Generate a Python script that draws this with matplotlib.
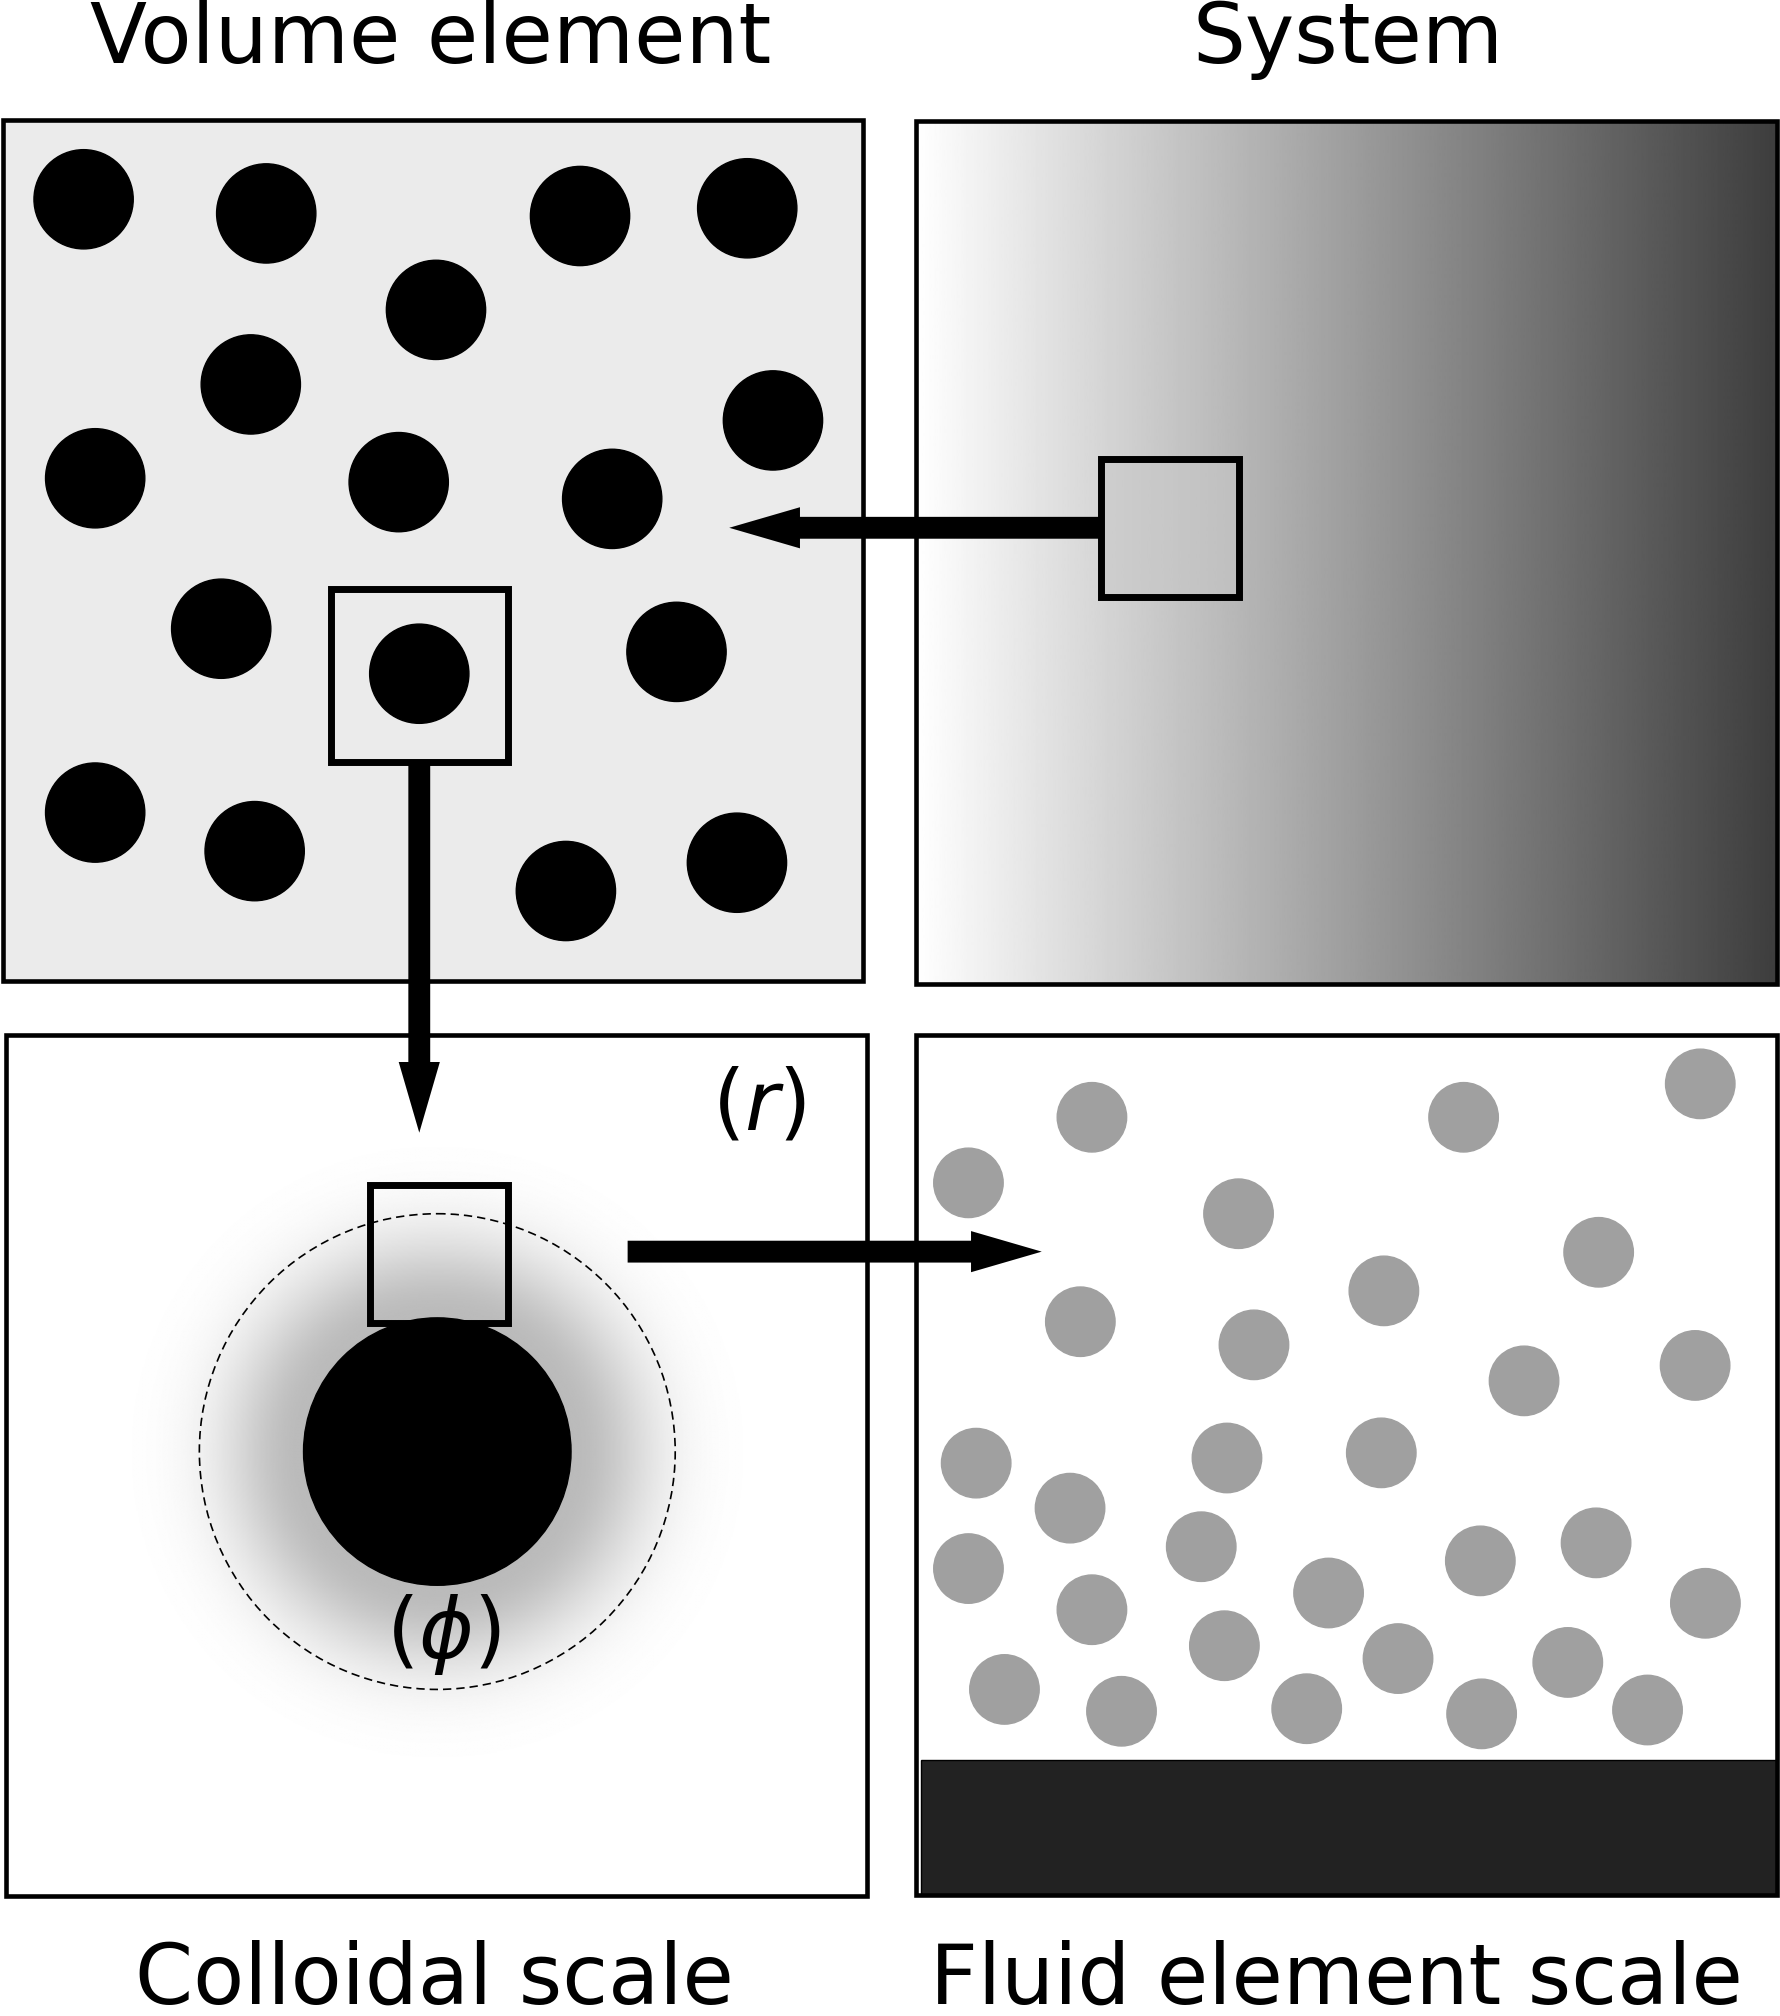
import numpy as np
import matplotlib
matplotlib.use("Agg")
import matplotlib.pyplot as plt
from matplotlib.patches import Circle, Rectangle, FancyArrow

plt.rcParams['font.family'] = ['DejaVu Sans']
plt.rcParams['mathtext.fontset'] = 'dejavusans'

# canvas units (image is 1384 x 1568 units, y grows downward)
W, H = 1384, 1568

# panel titles
top_titles = ["Volume element", "System"]
bottom_titles = ["Colloidal scale", "Fluid element scale"]

# particles in the volume element (top left)
vol_x = [65, 207, 451, 581, 339, 195, 601, 74, 310, 476, 172, 326, 526, 74, 198, 440, 573]
vol_y = [155, 166, 168, 162, 241, 299, 327, 372, 375, 388, 489, 524, 507, 632, 662, 693, 671]
vol_r = 38.6

# solvent particles at the fluid element scale (bottom right)
fl_x = [849, 1138, 1322, 753, 963, 1243, 1076, 840, 975, 1185, 1318, 759, 954, 1074,
        832, 934, 1241, 1151, 1033, 753, 849, 1326, 952, 1087, 1219, 781, 872, 1016, 1152, 1281]
fl_y = [869, 869, 843, 920, 944, 974, 1004, 1028, 1046, 1074, 1062, 1138, 1134, 1130,
        1173, 1203, 1200, 1214, 1239, 1220, 1252, 1247, 1280, 1290, 1293, 1314, 1331, 1329, 1333, 1330]
fl_r = 27

# colloid at the colloidal scale (bottom left)
col_center = (340, 1129)
col_r = 104
halo_r = 185

fig = plt.figure(figsize=(17.8, 20.16), dpi=100)
ax = fig.add_axes([0, 0, 1, 1])
ax.set_xlim(0, W)
ax.set_ylim(H, 0)
ax.axis('off')

edge_lw = 3.3
box_lw = 5

# --- top left: volume element
ax.add_patch(Rectangle((2, 93), 669, 670, facecolor='#ebebeb', edgecolor='black', lw=edge_lw, zorder=1))
for x, y in zip(vol_x, vol_y):
    ax.add_patch(Circle((x, y), vol_r, color='black', zorder=2))
ax.add_patch(Rectangle((257, 458), 138, 135, facecolor='none', edgecolor='black', lw=box_lw, zorder=3))

# --- top right: system with gradient
grad = np.linspace(1.0, 0.24, 512)[None, :]
ax.imshow(grad, cmap='gray', vmin=0, vmax=1, extent=(712, 1382, 765, 94),
          aspect='auto', interpolation='bilinear', zorder=1)
ax.add_patch(Rectangle((712, 94), 670, 671, facecolor='none', edgecolor='black', lw=edge_lw, zorder=2))
ax.add_patch(Rectangle((856, 357), 107, 107, facecolor='#c8c8c8', alpha=0.5, edgecolor='none', zorder=3))
ax.add_patch(Rectangle((856, 357), 107, 107, facecolor='none', edgecolor='black', lw=box_lw, zorder=3))

# --- bottom left: colloidal scale
ax.add_patch(Rectangle((5, 805), 669, 670, facecolor='white', edgecolor='none', zorder=1))
n = 600
xs = np.linspace(col_center[0] - 280, col_center[0] + 280, n)
ys = np.linspace(col_center[1] - 280, col_center[1] + 280, n)
XX, YY = np.meshgrid(xs, ys)
rr = np.hypot(XX - col_center[0], YY - col_center[1])
glow = 1 - 0.27 * np.exp(-((np.clip(rr, col_r, None) - col_r) / 65.0) ** 2)
ax.imshow(glow, cmap='gray', vmin=0, vmax=1,
          extent=(xs[0], xs[-1], ys[-1], ys[0]), aspect='auto', interpolation='bilinear', zorder=1.5)
ax.add_patch(Rectangle((5, 805), 669, 670, facecolor='none', edgecolor='black', lw=edge_lw, zorder=2))
ax.add_patch(Circle(col_center, halo_r, facecolor='none', edgecolor='black', lw=1.2,
                    linestyle=(0, (5, 3)), zorder=2))
ax.add_patch(Circle(col_center, col_r, color='black', zorder=3))
ax.add_patch(Rectangle((288, 922), 107, 107, facecolor='none', edgecolor='black', lw=box_lw, zorder=4))
ax.text(590, 860, r'$(r)$', fontsize=60, ha='center', va='center', zorder=5)
ax.text(345, 1271, r'$(\phi)$', fontsize=60, ha='center', va='center', zorder=5)

# --- bottom right: fluid element scale
ax.add_patch(Rectangle((712, 805), 670, 669, facecolor='white', edgecolor='none', zorder=1))
for x, y in zip(fl_x, fl_y):
    ax.add_patch(Circle((x, y), fl_r, color='#a0a0a0', zorder=2))
ax.add_patch(Rectangle((716, 1369), 666, 105, facecolor='#222222', edgecolor='black', lw=1, zorder=2))
ax.add_patch(Rectangle((712, 805), 670, 669, facecolor='none', edgecolor='black', lw=edge_lw, zorder=3))

# --- arrows
aw = dict(width=17, head_width=32, head_length=55, length_includes_head=True,
          color='black', lw=0, zorder=6)
ax.add_patch(FancyArrow(856, 410.5, 567 - 856, 0, **aw))
ax.add_patch(FancyArrow(326, 593, 0, 881 - 593, **aw))
ax.add_patch(FancyArrow(488, 973.5, 810 - 488, 0, **aw))

# --- titles
ax.text(335, 49, top_titles[0], fontsize=60, ha='center', va='baseline')
ax.text(1048, 49, top_titles[1], fontsize=60, ha='center', va='baseline')
ax.text(338, 1558, bottom_titles[0], fontsize=60, ha='center', va='baseline')
ax.text(1039, 1558, bottom_titles[1], fontsize=60, ha='center', va='baseline')

fig.savefig('out.png', dpi=100, facecolor='white')
